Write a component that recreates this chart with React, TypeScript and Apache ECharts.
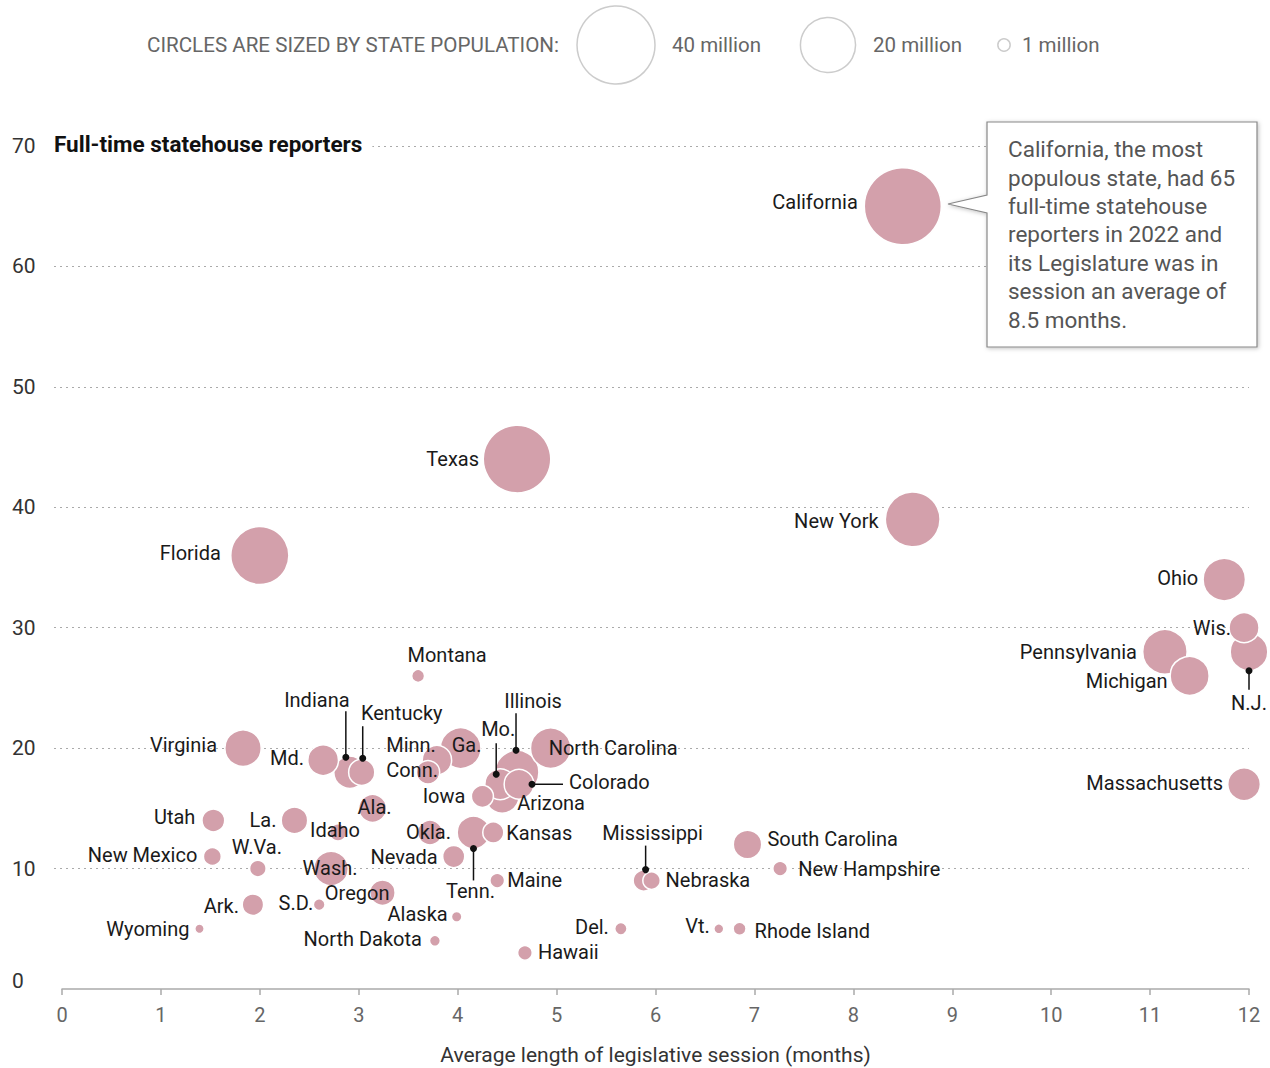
import React, { useEffect, useRef } from "react";
import * as echarts from "echarts";

// ---- Data ----
const states = [
  "California", "Texas", "New York", "Florida", "Ohio", "Wis.", "N.J.", "Pennsylvania", "Michigan", "Massachusetts",
  "Montana", "Virginia", "Md.", "Indiana", "Kentucky", "Minn.", "Conn.", "Ga.", "Iowa", "Mo.",
  "Illinois", "Colorado", "Arizona", "North Carolina", "Okla.", "Tenn.", "Kansas", "Nevada", "Maine", "Alaska",
  "North Dakota", "Hawaii", "Del.", "Vt.", "Rhode Island", "Mississippi", "Nebraska", "South Carolina", "New Hampshire", "Utah",
  "New Mexico", "W.Va.", "La.", "Idaho", "Ala.", "Wash.", "Oregon", "Ark.", "S.D.", "Wyoming",
];
const sessionMonths = [
  8.5, 4.6, 8.6, 2.0, 11.75, 11.95, 12.0, 11.15, 11.4, 11.95,
  3.6, 1.83, 2.64, 2.91, 3.03, 3.79, 3.7, 4.03, 4.25, 4.43,
  4.6, 4.62, 4.45, 4.94, 3.72, 4.16, 4.36, 3.96, 4.4, 3.99,
  3.77, 4.68, 5.65, 6.64, 6.85, 5.88, 5.96, 6.93, 7.26, 1.53,
  1.52, 1.98, 2.35, 2.79, 3.14, 2.72, 3.24, 1.93, 2.6, 1.39,
];
const reporters = [
  65, 44, 39, 36, 34, 30, 28, 28, 26, 17,
  26, 20, 19, 18, 18, 19, 18, 20, 16, 17,
  18, 17, 16, 20, 13, 13, 13, 11, 9, 6,
  4, 3, 5, 5, 5, 9, 9, 12, 10, 14,
  11, 10, 14, 13, 15, 10, 8, 7, 7, 5,
];
const populationMillions = [
  39.0, 30.0, 19.7, 22.2, 11.8, 5.9, 9.3, 13.0, 10.0, 7.0,
  1.1, 8.7, 6.2, 6.8, 4.5, 5.7, 3.6, 10.9, 3.2, 6.2,
  12.6, 5.8, 7.4, 10.7, 4.0, 7.0, 2.9, 3.2, 1.4, 0.73,
  0.78, 1.4, 1.0, 0.65, 1.1, 2.9, 2.0, 5.3, 1.4, 3.4,
  2.1, 1.8, 4.6, 1.9, 5.1, 7.8, 4.2, 3.0, 0.9, 0.58,
];
const xTicks = [0, 12, 1];
const yTicks = [0, 70, 10];
const legendSizes = [40, 20, 1];

// ---- Label layout (pixel offsets from bubble centre) ----
const labelLayout: Record<string, [string, number, number]> = {
  California: ["right", -45, -4],
  Texas: ["right", -38, 0],
  "New York": ["right", -34, 2],
  Florida: ["right", -39, -2],
  Ohio: ["right", -26, -2],
  "Wis.": ["right", -13, 0],
  "N.J.": ["center", 0, 51],
  Pennsylvania: ["right", -28, 0],
  Michigan: ["right", -22, 5],
  Massachusetts: ["right", -21, -1],
  Montana: ["center", 29, -21],
  Virginia: ["right", -26, -3],
  "Md.": ["right", -19, -2],
  Indiana: ["center", -33, -72],
  Kentucky: ["center", 40, -59],
  "Minn.": ["right", -1, -15],
  "Conn.": ["right", 10, -2],
  "Ga.": ["center", 6, -3],
  Iowa: ["right", -17, 0],
  "Mo.": ["center", -2, -55],
  Illinois: ["center", 16, -71],
  Colorado: ["left", 50, -2],
  Arizona: ["left", 15, 7],
  "North Carolina": ["left", -2, 0],
  "Okla.": ["right", 21, 0],
  "Tenn.": ["center", -3, 59],
  Kansas: ["left", 13, 1],
  Nevada: ["right", -16, 0],
  Maine: ["left", 10, -1],
  Alaska: ["right", -9, -3],
  "North Dakota": ["right", -13, -2],
  Hawaii: ["left", 13, -1],
  "Del.": ["right", -12, -2],
  "Vt.": ["right", -9, -3],
  "Rhode Island": ["left", 15, 2],
  Mississippi: ["center", 9, -48],
  Nebraska: ["left", 14, -1],
  "South Carolina": ["left", 20, -5],
  "New Hampshire": ["left", 18, 0],
  Utah: ["right", -18, -3],
  "New Mexico": ["right", -15, -2],
  "W.Va.": ["center", -1, -22],
  "La.": ["right", -18, 0],
  Idaho: ["center", -3, -2],
  "Ala.": ["center", 2, -1],
  "Wash.": ["center", -1, -1],
  Oregon: ["right", 7, 0],
  "Ark.": ["right", -14, 1],
  "S.D.": ["right", -6, -2],
  Wyoming: ["right", -10, 0],
};

const leaders: { name: string; from: [number, number]; to: [number, number] }[] = [
  { name: "Indiana", from: [-4, -15], to: [-4, -61] },
  { name: "Kentucky", from: [1, -14], to: [1, -46] },
  { name: "Mo.", from: [-4, -10], to: [-4, -41] },
  { name: "Illinois", from: [-1, -22], to: [-1, -59] },
  { name: "Colorado", from: [13, 0], to: [44, 0] },
  { name: "Tenn.", from: [0, 16], to: [0, 48] },
  { name: "Mississippi", from: [2, -11], to: [2, -35] },
  { name: "N.J.", from: [0, 19], to: [0, 38] },
];

const FONT = "Roboto, 'Noto Sans', sans-serif";
const BUBBLE = "#d3a0ab";
const sizeFor = (pop: number) => 78 * Math.sqrt(pop / 40);

export default function App() {
  const ref = useRef<HTMLDivElement>(null);
  useEffect(() => {
    document.body.style.margin = "0";
    if (!ref.current) return;
    const chart = echarts.init(ref.current, undefined, { renderer: "svg" });

    const order = states.map((_, i) => i).sort((a, b) => populationMillions[b] - populationMillions[a]);
    const bubbleData = order.map((i) => {
      const [align, dx, dy] = labelLayout[states[i]] || ["left", 10, 0];
      return {
        name: states[i],
        value: [sessionMonths[i], reporters[i], populationMillions[i]],
        symbolSize: sizeFor(populationMillions[i]),
        label: {
          show: true,
          position: "inside",
          align,
          verticalAlign: "middle",
          offset: [dx, dy],
          formatter: states[i],
        },
      };
    });

    const leaderData = leaders.map((l) => {
      const i = states.indexOf(l.name);
      return [sessionMonths[i], reporters[i], l.from[0], l.from[1], l.to[0], l.to[1]];
    });

    const legendX = [616, 828, 1004];
    const legendTextX = [672, 873, 1022];

    chart.setOption({
      animation: false,
      textStyle: { fontFamily: FONT },
      grid: [
        { left: 54, right: 21, top: 146, bottom: 79, outerBoundsMode: "none", containLabel: false },
        { left: 62, right: 21, top: 146, bottom: 79, outerBoundsMode: "none", containLabel: false },
      ],
      xAxis: [
        { gridIndex: 0, type: "value", min: xTicks[0], max: xTicks[1], show: false },
        {
          gridIndex: 1,
          type: "value",
          min: xTicks[0],
          max: xTicks[1],
          interval: xTicks[2],
          splitLine: { show: false },
          axisLine: { show: true, lineStyle: { color: "#aaa", width: 1.5 } },
          axisTick: { show: true, length: 6, lineStyle: { color: "#aaa", width: 1.5 } },
          axisLabel: { color: "#666", fontSize: 20, margin: 16, fontFamily: FONT },
          name: "Average length of legislative session (months)",
          nameLocation: "middle",
          nameGap: 55,
          nameTextStyle: { color: "#333", fontSize: 21, fontFamily: FONT },
        },
      ],
      yAxis: [
        {
          gridIndex: 0,
          type: "value",
          min: yTicks[0],
          max: yTicks[1],
          interval: yTicks[2],
          axisLine: { show: false },
          axisTick: { show: false },
          splitLine: { show: true, showMinLine: false, lineStyle: { color: "#aaa", type: [2, 4], width: 1.2 } },
          axisLabel: {
            align: "left",
            margin: 42,
            color: "#333",
            fontSize: 21,
            fontFamily: FONT,
            formatter: (v: number) => (v === 0 ? "{z|0}" : String(v)),
            rich: { z: { padding: [0, 0, 16, 0], color: "#333", fontSize: 21, fontFamily: FONT } },
          },
        },
        { gridIndex: 1, type: "value", min: yTicks[0], max: yTicks[1], show: false },
      ],
      series: [
        { type: "scatter", xAxisIndex: 0, yAxisIndex: 0, data: [], silent: true },
        {
          type: "scatter",
          xAxisIndex: 1,
          yAxisIndex: 1,
          symbol: "circle",
          silent: true,
          itemStyle: { color: BUBBLE, opacity: 1, borderColor: "#fff", borderWidth: 1.5 },
          label: { color: "#1a1a1a", fontSize: 20, fontFamily: FONT },
          data: bubbleData,
          z: 3,
        },
        {
          type: "custom",
          xAxisIndex: 1,
          yAxisIndex: 1,
          silent: true,
          z: 5,
          data: leaderData,
          renderItem: (_p: any, api: any) => {
            const c = api.coord([api.value(0), api.value(1)]);
            const x1 = c[0] + api.value(2);
            const y1 = c[1] + api.value(3);
            const x2 = c[0] + api.value(4);
            const y2 = c[1] + api.value(5);
            return {
              type: "group",
              children: [
                { type: "line", shape: { x1, y1, x2, y2 }, style: { stroke: "#111", lineWidth: 1.5 } },
                { type: "circle", shape: { cx: x1, cy: y1, r: 3.5 }, style: { fill: "#111" } },
              ],
            };
          },
        },
      ],
      graphic: [
        {
          type: "text",
          left: 54,
          top: 130,
          z: 100,
          style: {
            text: "Full-time statehouse reporters",
            font: `bold 22.5px ${FONT}`,
            fill: "#111",
            backgroundColor: "#fff",
            padding: [2, 10, 2, 0],
          },
        },
        {
          type: "text",
          x: 147,
          y: 45,
          style: {
            text: "CIRCLES ARE SIZED BY STATE POPULATION:",
            font: `20.6px ${FONT}`,
            fill: "#666",
            verticalAlign: "middle",
          },
        },
        ...legendSizes.map((p, k) => ({
          type: "circle",
          shape: { cx: legendX[k], cy: 45, r: sizeFor(p) / 2 },
          style: { fill: "#fff", stroke: "#ccc", lineWidth: 1.5 },
        })),
        ...legendSizes.map((p, k) => ({
          type: "text",
          x: legendTextX[k],
          y: 45,
          style: { text: `${p} million`, font: `20.5px ${FONT}`, fill: "#666", verticalAlign: "middle" },
        })),
        {
          type: "polygon",
          z: 50,
          shape: {
            points: [
              [987, 122], [1257, 122], [1257, 347], [987, 347], [987, 213], [948, 204], [987, 195],
            ],
          },
          style: {
            fill: "#fff",
            stroke: "#888",
            lineWidth: 1.2,
            shadowBlur: 4,
            shadowColor: "rgba(0,0,0,0.25)",
            shadowOffsetX: 1,
            shadowOffsetY: 1,
          },
        },
        {
          type: "text",
          z: 51,
          x: 1008,
          y: 135,
          style: {
            text:
              "California, the most\npopulous state, had 65\nfull-time statehouse\nreporters in 2022 and\nits Legislature was in\nsession an average of\n8.5 months.",
            font: `22.5px ${FONT}`,
            lineHeight: 28.4,
            fill: "#555",
            verticalAlign: "top",
          },
        },
      ],
    });
    return () => chart.dispose();
  }, []);
  return <div ref={ref} style={{ width: 1270, height: 1068 }} />;
}
